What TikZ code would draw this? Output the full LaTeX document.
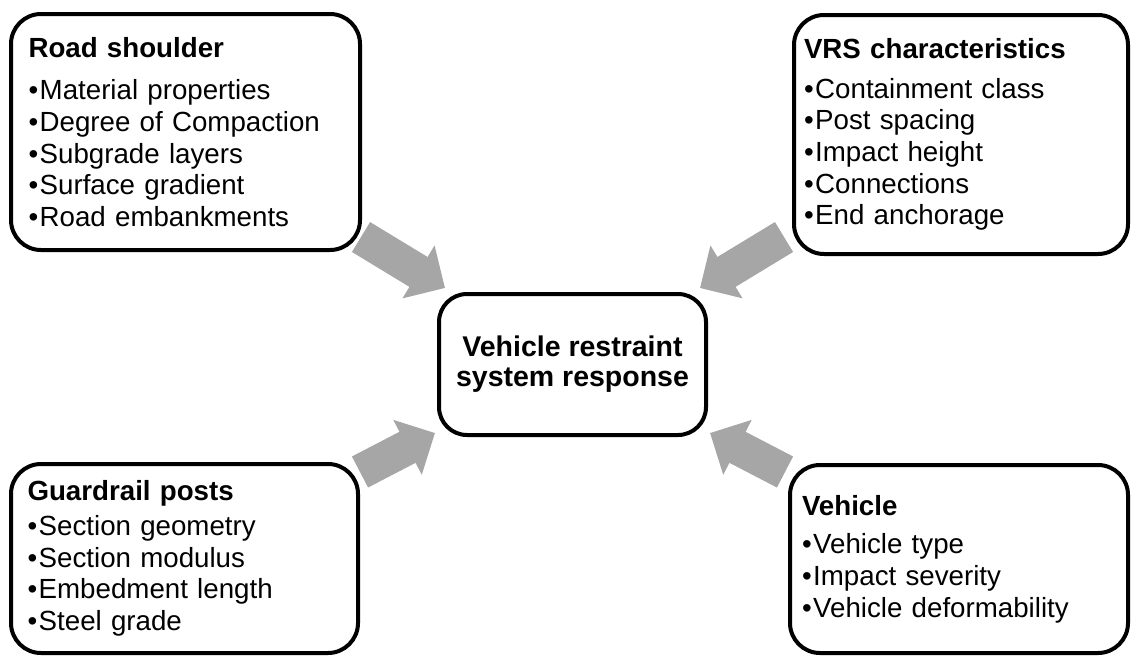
\documentclass[tikz,border=0pt]{standalone}
\usepackage{fontspec}
\setmainfont{Liberation Sans}
\usetikzlibrary{arrows.meta}
\definecolor{arrGray}{RGB}{166,166,166}
\newcommand{\itm}{\textbullet\hspace{1.5pt}}

\begin{document}
\begin{tikzpicture}[x=1pt,y=-1pt,
                    boxND/.style={rectangle,
                                  rounded corners=30pt,
                                  draw=black,
                                  line width=4pt,
                                  fill=white,
                                  text width=314pt,
                                  inner sep=0pt,
                                  align=left,
                                  font=\fontsize{27.7}{31.7}\selectfont},
                    respND/.style={rectangle,
                                  rounded corners=28pt,
                                  draw=black,
                                  line width=4pt,
                                  fill=white,
                                  minimum width=267pt,
                                  minimum height=141pt,
                                  align=center,
                                  font=\bfseries\fontsize{28.5}{30}\selectfont},
                    bigArr/.style={arrGray,
                                  line width=35pt,
                                  -{Triangle[length=31pt,width=60pt]}}]
        \useasboundingbox (0,0) rectangle (1131,656);
        % block arrows
        \coordinate (tRS)  at (361,237);
        \coordinate (hRS)  at (445,288);
        \coordinate (tVRS) at (784,237);
        \coordinate (hVRS) at (700,288);
        \coordinate (tGP)  at (360,472);
        \coordinate (hGP)  at (435,433);
        \coordinate (tVH)  at (785,472);
        \coordinate (hVH)  at (710,433);
        \draw[bigArr] (tRS)  -- (hRS);
        \draw[bigArr] (tVRS) -- (hVRS);
        \draw[bigArr] (tGP)  -- (hGP);
        \draw[bigArr] (tVH)  -- (hVH);
        % boxes
        \node[boxND, minimum width=349pt, minimum height=236pt](RS) at (185.5,132)
            {\textbf{Road shoulder}\\[11pt]
             \itm Material properties\\
             \itm Degree of Compaction\\
             \itm Subgrade layers\\
             \itm Surface gradient\\
             \itm Road embankments};
        \node[boxND, minimum width=334pt, minimum height=239pt](VRS) at (961,134.5)
            {\textbf{VRS characteristics}\\[8pt]
             \itm Containment class\\
             \itm Post spacing\\
             \itm Impact height\\
             \itm Connections\\
             \itm End anchorage};
        \node[boxND, minimum width=347pt, minimum height=189pt](GP) at (184.5,558.5)
            {\textbf{Guardrail posts}\\[3pt]
             \itm Section geometry\\
             \itm Section modulus\\
             \itm Embedment length\\
             \itm Steel grade};
        \node[boxND, minimum width=338pt, minimum height=188pt](VH) at (959,559)
            {\textbf{Vehicle}\\[7pt]
             \itm Vehicle type\\
             \itm Impact severity\\
             \itm Vehicle deformability};
        \node[respND](RESP) at (572.5,364.5) {Vehicle restraint\\system response};
    \end{tikzpicture}
\end{document}
